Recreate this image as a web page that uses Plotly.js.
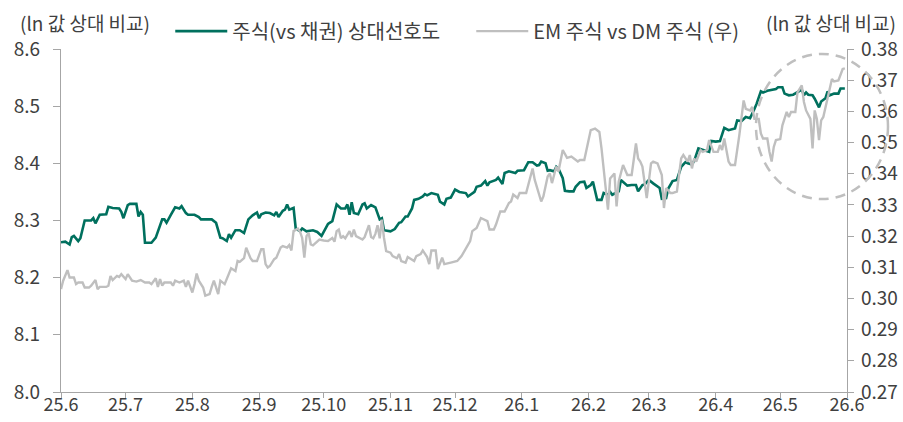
<!DOCTYPE html>
<html>
<head>
<meta charset="utf-8">
<script src="https://cdn.plot.ly/plotly-3.0.1.min.js"></script>
<style>html,body{margin:0;padding:0;background:#fff;}#chart{width:903px;height:422px;}</style>
</head>
<body>
<div id="chart"></div>
<script>
// 주식(vs 채권) 상대선호도 (left axis, ln value)
const equityDates = ['2025-06-01','2025-06-03','2025-06-05','2025-06-06','2025-06-07','2025-06-09','2025-06-10','2025-06-11','2025-06-12','2025-06-15','2025-06-16','2025-06-17','2025-06-19','2025-06-22','2025-06-23','2025-06-25','2025-06-28','2025-06-29','2025-06-30',
'2025-07-02','2025-07-03','2025-07-06','2025-07-07','2025-07-08','2025-07-09','2025-07-10','2025-07-13','2025-07-15','2025-07-18','2025-07-19','2025-07-20','2025-07-22','2025-07-24','2025-07-26','2025-07-27','2025-07-29','2025-07-30',
'2025-08-02','2025-08-04','2025-08-05','2025-08-10','2025-08-12','2025-08-14','2025-08-15','2025-08-17','2025-08-18','2025-08-19','2025-08-21','2025-08-23','2025-08-25','2025-08-27','2025-08-29','2025-08-31',
'2025-09-01','2025-09-02','2025-09-04','2025-09-06','2025-09-08','2025-09-09','2025-09-10','2025-09-12','2025-09-13','2025-09-14','2025-09-15','2025-09-17','2025-09-18','2025-09-20','2025-09-21','2025-09-23','2025-09-26','2025-09-28','2025-09-30',
'2025-10-03','2025-10-05','2025-10-06','2025-10-07','2025-10-09','2025-10-11','2025-10-12','2025-10-13','2025-10-14','2025-10-15','2025-10-17','2025-10-19','2025-10-20','2025-10-21','2025-10-23','2025-10-25','2025-10-27','2025-10-28','2025-10-29',
'2025-11-01','2025-11-03','2025-11-05','2025-11-06','2025-11-08','2025-11-09','2025-11-11','2025-11-12','2025-11-14','2025-11-16','2025-11-17','2025-11-18','2025-11-20','2025-11-23','2025-11-24','2025-11-26','2025-11-27','2025-11-29',
'2025-12-01','2025-12-03','2025-12-06','2025-12-07','2025-12-10','2025-12-11','2025-12-13','2025-12-15','2025-12-16','2025-12-17','2025-12-20','2025-12-21','2025-12-23','2025-12-24','2025-12-26','2025-12-29','2025-12-30',
'2026-01-02','2026-01-04','2026-01-06','2026-01-08','2026-01-09','2026-01-10','2026-01-12','2026-01-13','2026-01-14','2026-01-16','2026-01-17','2026-01-18','2026-01-20','2026-01-21','2026-01-23','2026-01-25','2026-01-26','2026-01-28','2026-01-30','2026-01-31',
'2026-02-02','2026-02-03','2026-02-04','2026-02-05','2026-02-07','2026-02-08','2026-02-10','2026-02-11','2026-02-12','2026-02-15','2026-02-16','2026-02-18','2026-02-19','2026-02-21','2026-02-23','2026-02-24','2026-02-26','2026-02-27',
'2026-03-01','2026-03-03','2026-03-05','2026-03-06','2026-03-07','2026-03-09','2026-03-10','2026-03-12','2026-03-14','2026-03-15','2026-03-16','2026-03-18','2026-03-19','2026-03-21','2026-03-22','2026-03-24','2026-03-25','2026-03-27','2026-03-29','2026-03-30',
'2026-04-01','2026-04-03','2026-04-05','2026-04-07','2026-04-09','2026-04-10','2026-04-11','2026-04-13','2026-04-15','2026-04-17','2026-04-19','2026-04-20','2026-04-22','2026-04-23','2026-04-25','2026-04-27','2026-04-29','2026-04-30',
'2026-05-02','2026-05-03','2026-05-05','2026-05-07','2026-05-09','2026-05-11','2026-05-12','2026-05-13','2026-05-14','2026-05-16','2026-05-17','2026-05-19','2026-05-20','2026-05-22','2026-05-23','2026-05-24','2026-05-26','2026-05-28','2026-05-29','2026-05-31'];
const equityPref = [8.262,8.263,8.258,8.271,8.273,8.264,8.269,8.287,8.300,8.300,8.304,8.295,8.310,8.311,8.324,8.322,8.321,8.315,8.304,
8.327,8.329,8.329,8.307,8.315,8.310,8.261,8.261,8.270,8.302,8.302,8.296,8.310,8.323,8.321,8.325,8.313,8.310,
8.310,8.306,8.302,8.302,8.296,8.270,8.269,8.264,8.276,8.270,8.283,8.283,8.278,8.302,8.309,8.314,
8.304,8.311,8.314,8.313,8.309,8.315,8.306,8.317,8.319,8.328,8.319,8.322,8.286,8.281,8.286,8.281,8.283,8.280,8.273,
8.294,8.299,8.313,8.328,8.321,8.321,8.328,8.310,8.332,8.313,8.311,8.328,8.330,8.321,8.327,8.323,8.302,8.304,8.283,
8.281,8.285,8.296,8.297,8.307,8.307,8.321,8.336,8.338,8.342,8.346,8.344,8.348,8.345,8.333,8.328,8.338,8.340,
8.354,8.350,8.348,8.342,8.350,8.359,8.361,8.369,8.361,8.367,8.371,8.375,8.364,8.383,8.386,8.383,8.387,
8.388,8.402,8.402,8.396,8.397,8.403,8.400,8.387,8.388,8.386,8.394,8.391,8.374,8.352,8.351,8.351,8.359,8.367,8.368,8.357,
8.362,8.368,8.352,8.336,8.336,8.348,8.345,8.350,8.345,8.351,8.371,8.365,8.361,8.362,8.362,8.351,8.362,8.363,
8.371,8.365,8.359,8.357,8.338,8.339,8.356,8.369,8.371,8.381,8.394,8.402,8.400,8.398,8.404,8.426,8.425,8.422,8.420,8.439,
8.438,8.439,8.462,8.458,8.460,8.461,8.475,8.474,8.481,8.479,8.495,8.504,8.526,8.524,8.527,8.529,8.530,8.533,
8.533,8.522,8.519,8.520,8.525,8.529,8.519,8.524,8.520,8.519,8.513,8.498,8.508,8.514,8.526,8.519,8.522,8.522,8.531,8.531];

// EM 주식 vs DM 주식 (right axis, ln value)
const emDates = ['2025-06-01','2025-06-02','2025-06-04','2025-06-05','2025-06-07','2025-06-08','2025-06-09','2025-06-11','2025-06-12','2025-06-14','2025-06-15','2025-06-17','2025-06-18','2025-06-19','2025-06-22','2025-06-23','2025-06-24','2025-06-25','2025-06-27','2025-06-28','2025-06-29',
'2025-07-01','2025-07-02','2025-07-04','2025-07-06','2025-07-08','2025-07-10','2025-07-12','2025-07-13','2025-07-15','2025-07-16','2025-07-17','2025-07-18','2025-07-19','2025-07-22','2025-07-23','2025-07-24','2025-07-26','2025-07-28','2025-07-29','2025-07-30',
'2025-08-01','2025-08-02','2025-08-03','2025-08-04','2025-08-06','2025-08-07','2025-08-09','2025-08-10','2025-08-11','2025-08-13','2025-08-14','2025-08-16','2025-08-18','2025-08-19','2025-08-21','2025-08-22','2025-08-23','2025-08-25','2025-08-26','2025-08-28','2025-08-29','2025-08-31',
'2025-09-02','2025-09-03','2025-09-04','2025-09-05','2025-09-06','2025-09-08','2025-09-09','2025-09-11','2025-09-12','2025-09-14','2025-09-15','2025-09-16','2025-09-17','2025-09-19','2025-09-20','2025-09-21','2025-09-22','2025-09-23','2025-09-24','2025-09-25','2025-09-26','2025-09-28','2025-09-29',
'2025-10-01','2025-10-03','2025-10-05','2025-10-06','2025-10-07','2025-10-08','2025-10-09','2025-10-10','2025-10-11','2025-10-13','2025-10-14','2025-10-15','2025-10-16','2025-10-18','2025-10-19','2025-10-20','2025-10-22','2025-10-23','2025-10-24','2025-10-25','2025-10-26','2025-10-27','2025-10-28','2025-10-29','2025-10-30',
'2025-11-01','2025-11-02','2025-11-04','2025-11-05','2025-11-06','2025-11-08','2025-11-09','2025-11-10','2025-11-12','2025-11-13','2025-11-15','2025-11-16','2025-11-18','2025-11-19','2025-11-20','2025-11-22','2025-11-23','2025-11-25','2025-11-26','2025-11-29',
'2025-12-02','2025-12-04','2025-12-06','2025-12-08','2025-12-09','2025-12-11','2025-12-13','2025-12-16','2025-12-17','2025-12-19','2025-12-20','2025-12-22','2025-12-24','2025-12-26','2025-12-27','2025-12-28','2025-12-30','2025-12-31',
'2026-01-03','2026-01-05','2026-01-06','2026-01-07','2026-01-09','2026-01-10','2026-01-11','2026-01-13','2026-01-14','2026-01-15','2026-01-17','2026-01-18','2026-01-20','2026-01-22','2026-01-24','2026-01-27','2026-01-28','2026-01-30',
'2026-02-01','2026-02-02','2026-02-04','2026-02-06','2026-02-07','2026-02-09','2026-02-10','2026-02-11','2026-02-13','2026-02-14','2026-02-15','2026-02-17','2026-02-19','2026-02-21','2026-02-23','2026-02-24','2026-02-25','2026-02-26','2026-02-28',
'2026-03-02','2026-03-03','2026-03-05','2026-03-07','2026-03-08','2026-03-09','2026-03-11','2026-03-12','2026-03-14','2026-03-15','2026-03-16','2026-03-17','2026-03-19','2026-03-20','2026-03-21','2026-03-22','2026-03-23','2026-03-25','2026-03-26','2026-03-28','2026-03-29','2026-03-31',
'2026-04-02','2026-04-03','2026-04-04','2026-04-05','2026-04-07','2026-04-08','2026-04-10','2026-04-12','2026-04-13','2026-04-14','2026-04-15','2026-04-17','2026-04-18','2026-04-19','2026-04-21','2026-04-22','2026-04-23','2026-04-25','2026-04-26','2026-04-27','2026-04-28','2026-04-29',
'2026-05-01','2026-05-02','2026-05-04','2026-05-05','2026-05-06','2026-05-08','2026-05-09','2026-05-11','2026-05-12','2026-05-13','2026-05-15','2026-05-16','2026-05-17','2026-05-18','2026-05-19','2026-05-20','2026-05-21','2026-05-23','2026-05-25','2026-05-26','2026-05-28','2026-05-30','2026-05-31'];
const emVsDm = [0.3030,0.3057,0.3091,0.3067,0.3067,0.3046,0.3051,0.3051,0.3035,0.3035,0.3041,0.3059,0.3030,0.3037,0.3037,0.3041,0.3072,0.3059,0.3072,0.3069,0.3078,
0.3062,0.3078,0.3057,0.3054,0.3059,0.3051,0.3051,0.3046,0.3065,0.3037,0.3062,0.3041,0.3051,0.3051,0.3041,0.3057,0.3051,0.3057,0.3037,0.3057,
0.3019,0.3046,0.3080,0.3057,0.3035,0.3009,0.3014,0.3037,0.3057,0.3014,0.3057,0.3046,0.3080,0.3097,0.3088,0.3120,0.3117,0.3129,0.3163,0.3129,0.3120,0.3120,
0.3158,0.3158,0.3110,0.3099,0.3104,0.3126,0.3131,0.3163,0.3168,0.3163,0.3171,0.3154,0.3216,0.3224,0.3214,0.3194,0.3131,0.3200,0.3210,0.3173,0.3170,0.3182,0.3189,
0.3186,0.3184,0.3194,0.3182,0.3216,0.3221,0.3193,0.3200,0.3193,0.3216,0.3197,0.3221,0.3200,0.3194,0.3189,0.3197,0.3235,0.3197,0.3193,0.3207,0.3235,0.3193,0.3253,0.3194,0.3152,
0.3147,0.3136,0.3129,0.3142,0.3120,0.3115,0.3133,0.3129,0.3120,0.3136,0.3142,0.3154,0.3133,0.3110,0.3154,0.3154,0.3094,0.3131,0.3110,0.3115,
0.3120,0.3136,0.3158,0.3184,0.3216,0.3226,0.3258,0.3248,0.3221,0.3221,0.3237,0.3279,0.3279,0.3306,0.3311,0.3333,0.3322,0.3338,
0.3338,0.3385,0.3417,0.3380,0.3338,0.3311,0.3327,0.3391,0.3401,0.3370,0.3423,0.3407,0.3476,0.3451,0.3455,0.3439,0.3444,0.3444,
0.3508,0.3540,0.3545,0.3534,0.3481,0.3354,0.3285,0.3385,0.3401,0.3295,0.3375,0.3428,0.3396,0.3396,0.3497,0.3449,0.3439,0.3423,0.3322,
0.3433,0.3439,0.3433,0.3396,0.3290,0.3354,0.3338,0.3338,0.3343,0.3396,0.3449,0.3460,0.3439,0.3460,0.3417,0.3449,0.3439,0.3476,0.3470,0.3476,0.3508,0.3470,
0.3470,0.3492,0.3476,0.3513,0.3439,0.3428,0.3428,0.3524,0.3587,0.3635,0.3608,0.3603,0.3614,0.3576,0.3576,0.3529,0.3513,0.3513,0.3470,0.3439,0.3486,0.3508,
0.3511,0.3555,0.3598,0.3582,0.3598,0.3598,0.3661,0.3683,0.3630,0.3603,0.3576,0.3481,0.3603,0.3576,0.3508,0.3571,0.3582,0.3640,0.3704,0.3696,0.3699,0.3736,0.3738];

const seriesNames = ['주식(vs 채권) 상대선호도', 'EM 주식 vs DM 주식 (우)'];
const axisTitle = '(ln 값 상대 비교)';
const leftTicks = [8.0, 8.1, 8.2, 8.3, 8.4, 8.5, 8.6];
const rightTicks = [0.27, 0.28, 0.29, 0.30, 0.31, 0.32, 0.33, 0.34, 0.35, 0.36, 0.37, 0.38];

const FONT = '"Noto Sans CJK KR", "Noto Sans", sans-serif';
const TXT = '#404040';
const AX = '#A6A6A6';

const traces = [
  {x: equityDates, y: equityPref, name: seriesNames[0], type: 'scatter', mode: 'lines',
   line: {color: '#00705E', width: 2.6}, yaxis: 'y'},
  {x: emDates, y: emVsDm, name: seriesNames[1], type: 'scatter', mode: 'lines',
   line: {color: '#BFBFBF', width: 2.4}, yaxis: 'y2'}
];
// draw green above grey
const data = [traces[1], traces[0]];

const layout = {
  width: 903, height: 422,
  margin: {l: 61, r: 56, t: 47, b: 30},
  paper_bgcolor: '#fff', plot_bgcolor: '#fff',
  font: {family: FONT, size: 18, color: TXT},
  showlegend: true,
  legend: {orientation: 'h', x: 0.139, y: 1.052, xanchor: 'left', yanchor: 'middle',
    traceorder: 'reversed', itemwidth: 52, entrywidth: 234, entrywidthmode: 'pixels',
    font: {family: FONT, size: 20, color: TXT}, bgcolor: 'rgba(0,0,0,0)'},
  xaxis: {type: 'date', range: ['2025-06-01', '2026-06-01'], dtick: 'M1', tick0: '2025-06-01',
    tickformat: '%y.%-m', showgrid: false, zeroline: false, showline: true, linecolor: AX, linewidth: 1.2,
    ticks: 'outside', ticklen: 5, tickcolor: AX, ticklabelstandoff: -9,
    tickfont: {family: FONT, size: 18, color: TXT}},
  yaxis: {range: [8.0, 8.6], tickvals: leftTicks, tickformat: '.1f', showgrid: false, zeroline: false,
    showline: true, linecolor: AX, linewidth: 1.2, ticks: 'outside', ticklen: 7, tickcolor: AX,
    ticklabelstandoff: 9, tickfont: {family: FONT, size: 19, color: TXT}},
  yaxis2: {range: [0.27, 0.38], tickvals: rightTicks, tickformat: '.2f', overlaying: 'y', side: 'right',
    showgrid: false, zeroline: false, showline: true, linecolor: AX, linewidth: 1.2, ticks: 'outside',
    ticklen: 6, tickcolor: AX, ticklabelstandoff: 3, tickfont: {family: FONT, size: 19, color: TXT}},
  annotations: [
    {text: axisTitle, xref: 'paper', yref: 'paper', x: (18 - 61) / 786, y: 1 + (47 - 20) / 345,
     xanchor: 'left', yanchor: 'middle', showarrow: false, font: {family: FONT, size: 19, color: TXT}},
    {text: axisTitle, xref: 'paper', yref: 'paper', x: (898 - 61) / 786, y: 1 + (47 - 20) / 345,
     xanchor: 'right', yanchor: 'middle', showarrow: false, font: {family: FONT, size: 19, color: TXT}}
  ],
  shapes: [
    {type: 'circle', xref: 'paper', yref: 'paper', x0: (756 - 61) / 786, x1: (888 - 61) / 786,
     y0: 1 - (198 - 47) / 345, y1: 1 - (52 - 47) / 345,
     line: {color: '#BFBFBF', width: 2.5, dash: '10px,7px'}, layer: 'above'}
  ]
};

Plotly.newPlot('chart', data, layout, {staticPlot: true, displayModeBar: false});
</script>
</body>
</html>
